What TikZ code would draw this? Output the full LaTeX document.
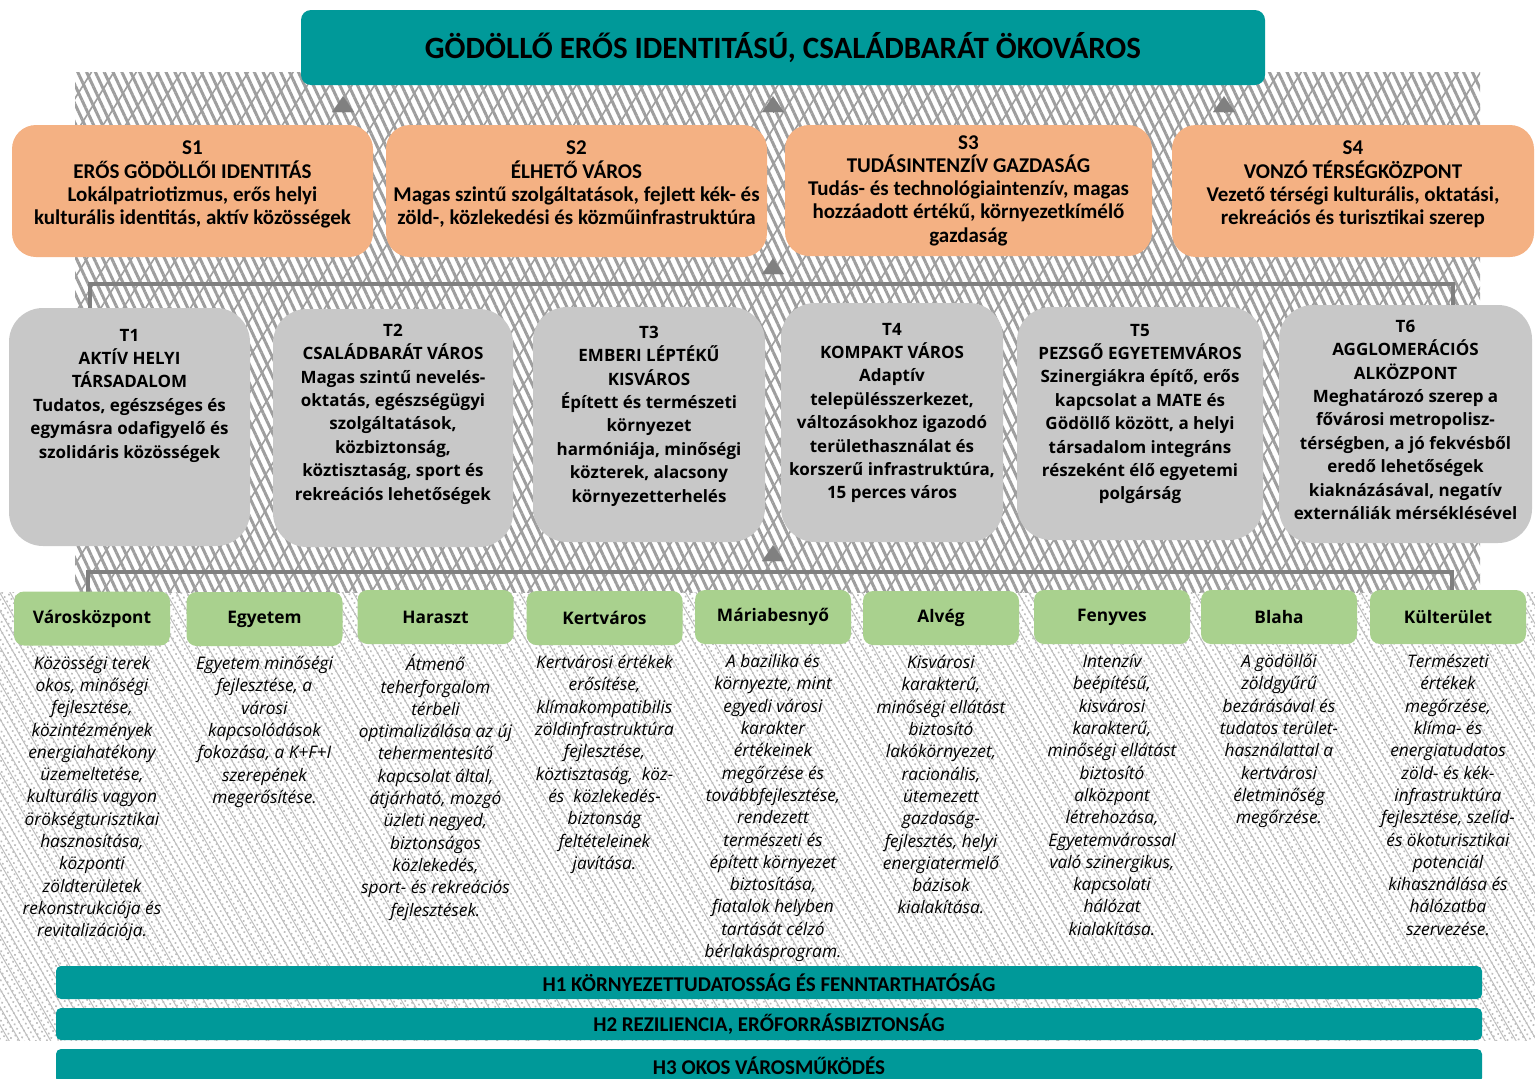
\documentclass[tikz,border=0pt]{standalone}
\usepackage{fontspec}
\setmainfont{Carlito}
\newfontfamily\segoe{Open Sans}
\usetikzlibrary{positioning,patterns.meta,arrows.meta}

\definecolor{cteal}{RGB}{0,153,153}
\definecolor{peach}{RGB}{244,177,131}
\definecolor{tgray}{RGB}{200,200,200}
\definecolor{tabgreen}{RGB}{169,209,142}
\definecolor{linegray}{RGB}{128,128,128}
\definecolor{hatchgray}{RGB}{158,158,158}
\definecolor{speckgray}{RGB}{190,190,190}

\begin{document}
\begin{tikzpicture}[
    x=1pt, y=-1pt,
    node distance=10pt,
    visionbox/.style={fill=cteal, rounded corners=10pt, inner sep=0pt,
        font=\fontsize{31}{34}\selectfont\bfseries},
    sbox/.style={fill=peach, rounded corners=24pt, inner sep=0pt, align=center,
        minimum height=132pt, font=\fontsize{21}{23.3}\selectfont\bfseries},
    tbox/.style={fill=tgray, rounded corners=34pt, inner sep=0pt},
    ttext/.style={align=center, inner sep=0pt,
        font=\segoe\fontsize{17}{23.4}\selectfont\bfseries},
    area/.style={fill=tabgreen, rounded corners=10pt, inner sep=0pt,
        minimum width=156pt, minimum height=54pt,
        font=\segoe\fontsize{17.3}{20}\selectfont\bfseries},
    desc/.style={align=center, inner sep=0pt,
        font=\segoe\fontsize{17.3}{22.3}\selectfont\itshape},
    hbar/.style={fill=cteal, rounded corners=5pt, inner sep=0pt,
        minimum width=1426pt, font=\fontsize{21}{22}\selectfont\bfseries},
    bracket/.style={draw=linegray, line width=4pt},
    uparrow/.style={-{Triangle[length=16pt,width=22pt]}, draw=linegray,
        fill=linegray, line width=0.1pt}
]
\useasboundingbox (0,0) rectangle (1535,1079);

% background texture
\fill[pattern={Lines[angle=-65,distance=8pt,line width=3pt]},
    pattern color=hatchgray] (75,72) rectangle (1480,592);
\fill[pattern={Lines[angle=58,distance=19pt,line width=1.6pt]},
    pattern color=hatchgray] (75,72) rectangle (1480,592);
\fill[pattern={Dots[distance=5pt,radius=1.2pt,angle=30]},
    pattern color=speckgray] (0,592) rectangle (1535,1040);
\fill[pattern={Lines[angle=-60,distance=9pt,line width=1pt]},
    pattern color=speckgray] (0,592) rectangle (1535,1040);

% vision
\node[
    visionbox,
    minimum width=964pt,
    minimum height=75pt,
    name=vision
] at (783,47.5) {GÖDÖLLŐ ERŐS IDENTITÁSÚ, CSALÁDBARÁT ÖKOVÁROS};

% strategic goals
\node[sbox, minimum width=361pt, name=s1] at (192.5,191)
    {S1\\ERŐS GÖDÖLLŐI IDENTITÁS\\Lokálpatriotizmus, erős helyi\\kulturális identitás, aktív közösségek\\[-7pt]};
\node[sbox, minimum width=381pt, name=s2] at (576.5,191)
    {S2\\ÉLHETŐ VÁROS\\Magas szintű szolgáltatások, fejlett kék- és\\zöld-, közlekedési és közműinfrastruktúra\\[-7pt]};
\node[sbox, minimum width=367pt, minimum height=131pt, name=s3] at (968.5,190.5)
    {S3\\TUDÁSINTENZÍV GAZDASÁG\\Tudás- és technológiaintenzív, magas\\hozzáadott értékű, környezetkímélő\\gazdaság};
\node[sbox, minimum width=362pt, name=s4] at (1353,191)
    {S4\\VONZÓ TÉRSÉGKÖZPONT\\Vezető térségi kulturális, oktatási,\\rekreációs és turisztikai szerep\\[-7pt]};

% thematic goals
\coordinate (ub) at (773,284);
\draw[bracket] (90,308) |- (ub) -| (1453,308);

\node[tbox, minimum width=241pt, minimum height=238pt, name=t1] at (129.5,427) {};
\node[tbox, minimum width=240pt, minimum height=238pt, name=t2] at (393,428) {};
\node[tbox, minimum width=232pt, minimum height=235pt, name=t3] at (649,424.5) {};
\node[tbox, minimum width=222pt, minimum height=239pt, name=t4] at (892,422.5) {};
\node[tbox, minimum width=246pt, minimum height=233pt, name=t5] at (1140,423.5) {};
\node[tbox, minimum width=253pt, minimum height=238pt, name=t6] at (1405.5,424) {};

\node[ttext, below=21pt of t1.north] (t1txt)
    {T1\\AKTÍV HELYI\\TÁRSADALOM\\Tudatos, egészséges és\\egymásra odafigyelő és\\szolidáris közösségek};
\node[ttext, below=15pt of t2.north] (t2txt)
    {T2\\CSALÁDBARÁT VÁROS\\Magas szintű nevelés-\\oktatás, egészségügyi\\szolgáltatások,\\közbiztonság,\\köztisztaság, sport és\\rekreációs lehetőségek};
\node[ttext, below=19pt of t3.north] (t3txt)
    {T3\\EMBERI LÉPTÉKŰ\\KISVÁROS\\Épített és természeti\\környezet\\harmóniája, minőségi\\közterek, alacsony\\környezetterhelés};
\node[ttext, below=20pt of t4.north] (t4txt)
    {T4\\KOMPAKT VÁROS\\Adaptív\\településszerkezet,\\változásokhoz igazodó\\területhasználat és\\korszerű infrastruktúra,\\15 perces város};
\node[ttext, below=17pt of t5.north] (t5txt)
    {T5\\PEZSGŐ EGYETEMVÁROS\\Szinergiákra építő, erős\\kapcsolat a MATE és\\Gödöllő között, a helyi\\társadalom integráns\\részeként élő egyetemi\\polgárság};
\node[ttext, below=15pt of t6.north] (t6txt)
    {T6\\AGGLOMERÁCIÓS\\ALKÖZPONT\\Meghatározó szerep a\\fővárosi metropolisz-\\térségben, a jó fekvésből\\eredő lehetőségek\\kiaknázásával, negatív\\externáliák mérséklésével};

% areas
\coordinate (lb) at (773,572);
\draw[bracket] (88,592) |- (lb) -| (1452,592);

\node[area, name=vk] at (92,618.5) {Városközpont};
\node[area, name=eg] at (264.5,619) {Egyetem};
\node[area, name=ha] at (435.5,617) {Haraszt};
\node[area, name=ke] at (604.5,618) {Kertváros};
\node[area, name=mb] at (773,617) {Máriabesnyő};
\node[area, name=al] at (941,618) {Alvég};
\node[area, name=fe] at (1112,617) {Fenyves};
\node[area, name=bl] at (1279,617) {Blaha};
\node[area, name=ku] at (1448,617) {Külterület};

\node[desc, below=of vk] (vkd) {Közösségi terek\\okos, minőségi\\fejlesztése,\\közintézmények\\energiahatékony\\üzemeltetése,\\kulturális vagyon\\örökségturisztikai\\hasznosítása,\\központi\\zöldterületek\\rekonstrukciója és\\revitalizációja.};
\node[desc, below=of eg] (egd) {Egyetem minőségi\\fejlesztése, a\\városi\\kapcsolódások\\fokozása, a K+F+I\\szerepének\\megerősítése.};
\node[desc, below=of ha] (had) {Átmenő\\teherforgalom\\térbeli\\optimalizálása az új\\tehermentesítő\\kapcsolat által,\\átjárható, mozgó\\üzleti negyed,\\biztonságos\\közlekedés,\\sport- és rekreációs\\fejlesztések.};
\node[desc, below=of ke] (ked) {Kertvárosi értékek\\erősítése,\\klímakompatibilis\\zöldinfrastruktúra\\fejlesztése,\\köztisztaság,~~köz-\\és~~közlekedés-\\biztonság\\feltételeinek\\javítása.};
\node[desc, below=of mb] (mbd) {A bazilika és\\környezte, mint\\egyedi városi\\karakter\\értékeinek\\megőrzése és\\továbbfejlesztése,\\rendezett\\természeti és\\épített környezet\\biztosítása,\\fiatalok helyben\\tartását célzó\\bérlakásprogram.};
\node[desc, below=of al] (ald) {Kisvárosi\\karakterű,\\minőségi ellátást\\biztosító\\lakókörnyezet,\\racionális,\\ütemezett\\gazdaság-\\fejlesztés, helyi\\energiatermelő\\bázisok\\kialakítása.};
\node[desc, below=of fe] (fed) {Intenzív\\beépítésű,\\kisvárosi\\karakterű,\\minőségi ellátást\\biztosító\\alközpont\\létrehozása,\\Egyetemvárossal\\való szinergikus,\\kapcsolati\\hálózat\\kialakítása.};
\node[desc, below=of bl] (bld) {A gödöllői\\zöldgyűrű\\bezárásával és\\tudatos terület-\\használattal a\\kertvárosi\\életminőség\\megőrzése.};
\node[desc, below=of ku] (kud) {Természeti\\értékek\\megőrzése,\\klíma- és\\energiatudatos\\zöld- és kék-\\infrastruktúra\\fejlesztése, szelíd-\\és ökoturisztikai\\potenciál\\kihasználása és\\hálózatba\\szervezése.};

% arrows
\coordinate (a1) at (343,112);
\coordinate (a2) at (773,112);
\coordinate (a3) at (1224,112);
\draw[uparrow, shorten >=11pt] (a1) -- (a1 |- vision.south);
\draw[uparrow, shorten >=11pt] (a2) -- (a2 |- vision.south);
\draw[uparrow, shorten >=11pt] (a3) -- (a3 |- vision.south);
\draw[uparrow, shorten <=10pt, shorten >=1pt] (ub) -- (ub |- s2.south);
\draw[uparrow, shorten <=11pt, shorten >=3pt] (lb) -- (lb |- t4.south);

% horizontal goals
\node[hbar, minimum height=33pt, name=h1] at (769,982.5) {H1 KÖRNYEZETTUDATOSSÁG ÉS FENNTARTHATÓSÁG};
\node[hbar, minimum height=32pt, name=h2] at (769,1024) {H2 REZILIENCIA, ERŐFORRÁSBIZTONSÁG};
\node[hbar, minimum height=34pt, name=h3] at (769,1066) {H3 OKOS VÁROSMŰKÖDÉS};
\end{tikzpicture}
\end{document}
